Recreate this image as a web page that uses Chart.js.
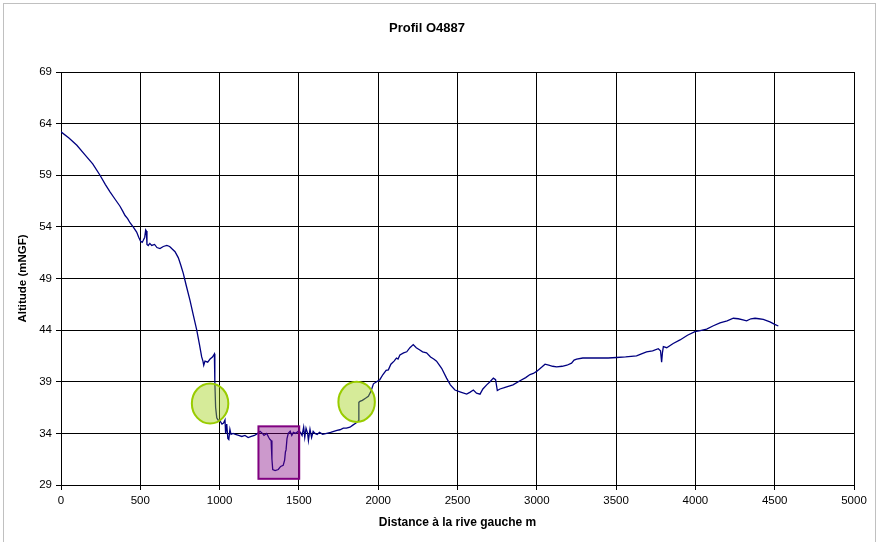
<!DOCTYPE html>
<html>
<head>
<meta charset="utf-8">
<script src="https://cdn.jsdelivr.net/npm/chart.js@4.4.1/dist/chart.umd.min.js"></script>
<style>
  html, body { margin: 0; padding: 0; background: #fff; }
  #wrap { width: 880px; height: 542px; position: relative; }
</style>
</head>
<body>
<div id="wrap"><canvas id="c" width="880" height="542"></canvas></div>
<script>
// ---- Data ----
const chartTitle = "Profil O4887";
const xTitle = "Distance à la rive gauche m";
const yTitle = "Altitude (mNGF)";

const xTicks = [0, 500, 1000, 1500, 2000, 2500, 3000, 3500, 4000, 4500, 5000];
const yTicks = [29, 34, 39, 44, 49, 54, 59, 64, 69];

const distance = [
  0, 50, 100, 150, 200, 246, 280, 309, 340, 372, 390, 404, 420, 435, 455, 477, 490, 502, 512, 519,
  528, 534, 538, 542, 550, 560, 572, 590, 605, 624, 645, 667, 685, 698, 719, 740, 755, 771, 790, 813,
  835, 856, 872, 887, 895, 900, 908, 925, 940, 955, 967, 970, 975, 982, 990, 1003, 1015, 1025, 1034, 1038,
  1045, 1052, 1058, 1065, 1072, 1085, 1100, 1120, 1140, 1160, 1180, 1200, 1220, 1240, 1255, 1270, 1280, 1297, 1310, 1318,
  1325, 1330, 1335, 1350, 1370, 1385, 1401, 1410, 1415, 1419, 1425, 1433, 1445, 1455, 1465, 1480, 1496, 1510, 1520, 1530,
  1537, 1545, 1555, 1560, 1570, 1580, 1590, 1601, 1615, 1630, 1650, 1675, 1700, 1720, 1740, 1759, 1780, 1800, 1822, 1840,
  1860, 1875, 1878, 1885, 1900, 1920, 1938, 1955, 1970, 1990, 2010, 2030, 2050, 2064, 2080, 2100, 2115, 2125, 2137, 2160,
  2180, 2200, 2221, 2240, 2260, 2280, 2305, 2330, 2350, 2368, 2400, 2431, 2455, 2484, 2520, 2558, 2580, 2600, 2620, 2642,
  2660, 2684, 2705, 2726, 2740, 2751, 2768, 2790, 2810, 2850, 2894, 2930, 2957, 2978, 2999, 3030, 3052, 3075, 3100, 3125,
  3160, 3190, 3219, 3235, 3251, 3290, 3335, 3398, 3450, 3503, 3560, 3629, 3660, 3692, 3730, 3766, 3780, 3787, 3792, 3798,
  3819, 3860, 3903, 3950, 3997, 4030, 4071, 4110, 4155, 4200, 4239, 4270, 4300, 4323, 4350, 4376, 4400, 4428, 4470, 4500,
  4523
];
const altitude = [
  63.2, 62.6, 61.9, 61.0, 60.1, 59.0, 58.1, 57.4, 56.7, 56.0, 55.5, 55.1, 54.8, 54.4, 54.0, 53.5, 53.0, 52.6, 52.5, 52.7,
  53.0, 53.7, 53.6, 52.3, 52.2, 52.4, 52.2, 52.3, 52.0, 51.9, 52.1, 52.2, 52.1, 51.9, 51.6, 51.0, 50.3, 49.5, 48.3, 46.9,
  45.4, 44.0, 42.7, 41.4, 41.0, 40.6, 41.0, 40.9, 41.2, 41.4, 41.7, 39.0, 36.5, 35.5, 35.3, 35.2, 34.9, 35.0, 35.3, 34.0,
  34.9, 33.5, 33.4, 34.4, 33.9, 34.0, 33.9, 33.8, 33.7, 33.8, 33.6, 33.7, 33.8, 34.0, 34.2, 34.0, 33.8, 34.0, 33.6, 33.4,
  33.3, 31.5, 30.5, 30.4, 30.5, 30.8, 30.9, 31.4, 32.2, 32.4, 33.5, 34.0, 34.2, 33.8, 34.1, 34.0, 34.2, 34.1, 33.8, 34.6,
  33.6, 34.5, 34.0, 33.3, 34.4, 33.6, 34.2, 34.0, 33.9, 34.1, 33.9, 34.0, 34.1, 34.2, 34.3, 34.35, 34.5, 34.5, 34.6, 34.8,
  35.0, 35.2, 37.0, 37.1, 37.2, 37.4, 37.6, 38.1, 38.8, 39.0, 39.2, 39.7, 40.1, 40.15, 40.7, 41.0, 41.3, 41.2, 41.6, 41.8,
  41.9, 42.3, 42.6, 42.3, 42.1, 41.9, 41.8, 41.4, 41.2, 41.0, 40.3, 39.35, 38.7, 38.2, 38.0, 37.8, 38.0, 38.2, 37.9, 37.8,
  38.3, 38.7, 39.0, 39.35, 39.2, 38.15, 38.3, 38.4, 38.5, 38.7, 39.1, 39.4, 39.7, 39.8, 40.0, 40.4, 40.7, 40.6, 40.5, 40.45,
  40.5, 40.6, 40.8, 41.1, 41.2, 41.3, 41.3, 41.3, 41.3, 41.35, 41.4, 41.5, 41.7, 41.9, 42.0, 42.2, 42.0, 40.9, 41.8, 42.4,
  42.3, 42.7, 43.05, 43.5, 43.85, 43.95, 44.1, 44.4, 44.7, 44.9, 45.15, 45.1, 45.0, 44.9, 45.1, 45.15, 45.1, 45.05, 44.8, 44.55,
  44.4
];

// Highlight shapes, in data units
const ellipseCentersX = [940, 1864];
const ellipseCentersY = [36.9, 37.05];
const ellipseHalfWidth = [115, 115];
const ellipseHalfHeight = [1.94, 1.94];
const boxX = [1245, 1502];
const boxY = [29.6, 34.68];

const points = distance.map((d, i) => ({ x: d, y: altitude[i] }));

const FONT = "'Liberation Sans', Arial, sans-serif";

const borderPlugin = {
  id: 'outerBorder',
  beforeDraw(chart) {
    const ctx = chart.ctx;
    ctx.save();
    ctx.fillStyle = '#fff';
    ctx.fillRect(0, 0, chart.width, chart.height);
    ctx.strokeStyle = '#c0c0c0';
    ctx.lineWidth = 1;
    ctx.strokeRect(3.5, 3.5, 872, 545);
    ctx.restore();
  }
};

const shapesPlugin = {
  id: 'shapes',
  afterDatasetsDraw(chart) {
    const ctx = chart.ctx;
    const xs = chart.scales.x, ys = chart.scales.y;
    ctx.save();
    for (let i = 0; i < ellipseCentersX.length; i++) {
      const cx = xs.getPixelForValue(ellipseCentersX[i]);
      const cy = ys.getPixelForValue(ellipseCentersY[i]);
      const rx = Math.abs(xs.getPixelForValue(ellipseCentersX[i] + ellipseHalfWidth[i]) - cx);
      const ry = Math.abs(ys.getPixelForValue(ellipseCentersY[i] + ellipseHalfHeight[i]) - cy);
      ctx.beginPath();
      ctx.ellipse(cx, cy, rx, ry, 0, 0, Math.PI * 2);
      ctx.fillStyle = 'rgba(153,204,0,0.4)';
      ctx.fill();
      ctx.lineWidth = 2;
      ctx.strokeStyle = '#99cc00';
      ctx.stroke();
    }
    const x0 = xs.getPixelForValue(boxX[0]), x1 = xs.getPixelForValue(boxX[1]);
    const y0 = ys.getPixelForValue(boxY[1]), y1 = ys.getPixelForValue(boxY[0]);
    ctx.fillStyle = 'rgba(128,0,128,0.4)';
    ctx.fillRect(x0, y0, x1 - x0, y1 - y0);
    ctx.lineWidth = 2;
    ctx.strokeStyle = '#800080';
    ctx.strokeRect(x0, y0, x1 - x0, y1 - y0);
    ctx.restore();
  }
};

new Chart(document.getElementById('c'), {
  type: 'scatter',
  data: {
    datasets: [{
      data: points,
      showLine: true,
      borderColor: '#000080',
      borderWidth: 1.3,
      pointRadius: 0,
      pointHoverRadius: 0,
      tension: 0,
      fill: false
    }]
  },
  options: {
    responsive: false,
    animation: false,
    events: [],
    layout: { padding: { left: 0, right: 26, top: 0, bottom: 0 } },
    plugins: {
      legend: { display: false },
      tooltip: { enabled: false },
      title: {
        display: true,
        text: chartTitle,
        color: '#000',
        font: { family: FONT, size: 13, weight: 'bold' },
        padding: { top: 21, bottom: 35.4 }
      }
    },
    scales: {
      x: {
        type: 'linear',
        min: 0, max: 5000,
        afterBuildTicks: (s) => { s.ticks = xTicks.map(v => ({ value: v })); },
        afterFit: (s) => { s.height = 57; },
        grid: { color: '#000', lineWidth: 1, tickLength: 5, drawTicks: true, tickColor: '#000' },
        border: { color: '#000', width: 1 },
        ticks: { color: '#000', font: { family: FONT, size: 11.5 }, padding: 4, maxRotation: 0, autoSkip: false,
                 callback: (v) => String(v) },
        title: { display: true, text: xTitle, color: '#000', font: { family: FONT, size: 12, weight: 'bold' }, padding: { top: 0, bottom: 12 } }
      },
      y: {
        type: 'linear',
        min: 29, max: 69,
        afterBuildTicks: (s) => { s.ticks = yTicks.map(v => ({ value: v })); },
        afterFit: (s) => { s.width = 61; },
        grid: { color: '#000', lineWidth: 1, tickLength: 5, drawTicks: true, tickColor: '#000' },
        border: { color: '#000', width: 1 },
        ticks: { color: '#000', font: { family: FONT, size: 11.5 }, padding: 4, autoSkip: false,
                 callback: (v) => String(v) },
        title: { display: true, text: yTitle, color: '#000', font: { family: FONT, size: 11.5, weight: 'bold' }, padding: { top: 15.5, bottom: 0 } }
      }
    }
  },
  plugins: [borderPlugin, shapesPlugin]
});
</script>
</body>
</html>
